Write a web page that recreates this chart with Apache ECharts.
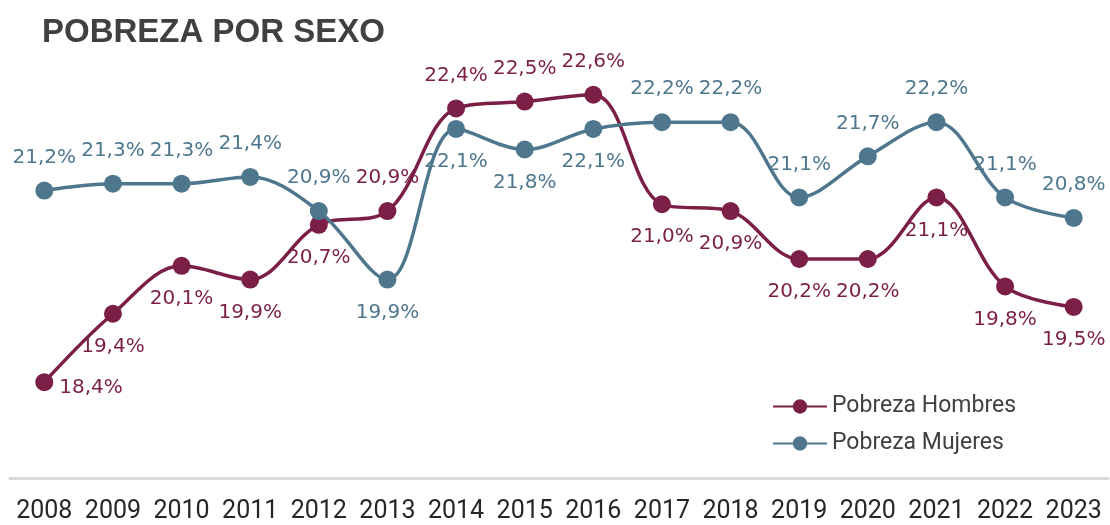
<!DOCTYPE html>
<html>
<head>
<meta charset="utf-8">
<script src="https://cdn.jsdelivr.net/npm/echarts@6/dist/echarts.min.js"></script>
<style>
  html, body { margin: 0; padding: 0; background: #fff; }
  #chart { width: 1110px; height: 525px; }
</style>
</head>
<body>
<div id="chart"></div>
<script>
const years = ["2008", "2009", "2010", "2011", "2012", "2013", "2014", "2015",
  "2016", "2017", "2018", "2019", "2020", "2021", "2022", "2023"];
const hombres = [18.4, 19.4, 20.1, 19.9, 20.7, 20.9, 22.4, 22.5, 22.6, 21.0, 20.9, 20.2, 20.2, 21.1, 19.8, 19.5];
const mujeres = [21.2, 21.3, 21.3, 21.4, 20.9, 19.9, 22.1, 21.8, 22.1, 22.2, 22.2, 21.1, 21.7, 22.2, 21.1, 20.8];

// where each value label sits relative to its point
const hombresLabelPos = ["right", "bottom", "bottom", "bottom", "bottom", "top", "top", "top",
  "top", "bottom", "bottom", "bottom", "bottom", "bottom", "bottom", "bottom"];
const mujeresLabelPos = ["top", "top", "top", "top", "top", "bottom", "bottom", "bottom",
  "bottom", "top", "top", "top", "top", "top", "top", "top"];

const MAROON = "#7b1f47";
const BLUE = "#4e778e";
const FONT = "Roboto";

const fmt = (v) => v.toFixed(1).replace(".", ",") + "%";

function buildData(values, positions) {
  return values.map((v, i) => ({
    value: v,
    label: positions[i] === "right"
      ? { position: "right", distance: 6, offset: [0, 6] }
      : { position: positions[i], distance: 14 },
  }));
}

function makeSeries(name, values, positions, color) {
  return {
    name: name,
    type: "line",
    data: buildData(values, positions),
    smooth: 0.35,
    symbol: "circle",
    symbolSize: 18,
    lineStyle: { color: color, width: 3.5 },
    itemStyle: { color: color },
    label: {
      show: true,
      color: color,
      fontSize: 20,
      fontFamily: "DejaVu Sans",
      formatter: (p) => fmt(p.value),
    },
    emphasis: { disabled: true },
  };
}

const chart = echarts.init(document.getElementById("chart"));

chart.setOption({
  animation: false,
  backgroundColor: "#fff",
  title: {
    text: "POBREZA POR SEXO",
    left: 37,
    top: 11,
    textStyle: { fontSize: 33, fontWeight: "bold", color: "#404040", fontFamily: "Liberation Sans" },
  },
  legend: {
    orient: "vertical",
    left: 767,
    top: 390,
    itemWidth: 54,
    itemHeight: 18,
    itemGap: 14,
    textStyle: { fontSize: 23, color: "#404040", fontFamily: FONT },
    data: ["Pobreza Hombres", "Pobreza Mujeres"],
  },
  grid: { left: 10, right: 2, top: 40, bottom: 47 },
  xAxis: {
    type: "category",
    data: years,
    boundaryGap: true,
    axisLine: { lineStyle: { color: "#d9d9d9", width: 3 } },
    axisTick: { show: false },
    axisLabel: { interval: 0, fontSize: 25, color: "#262626", margin: 21, fontFamily: FONT },
  },
  yAxis: {
    type: "value",
    min: 17,
    max: 23.4,
    show: false,
    splitLine: { show: false },
  },
  series: [
    makeSeries("Pobreza Hombres", hombres, hombresLabelPos, MAROON),
    makeSeries("Pobreza Mujeres", mujeres, mujeresLabelPos, BLUE),
  ],
});
</script>
</body>
</html>
